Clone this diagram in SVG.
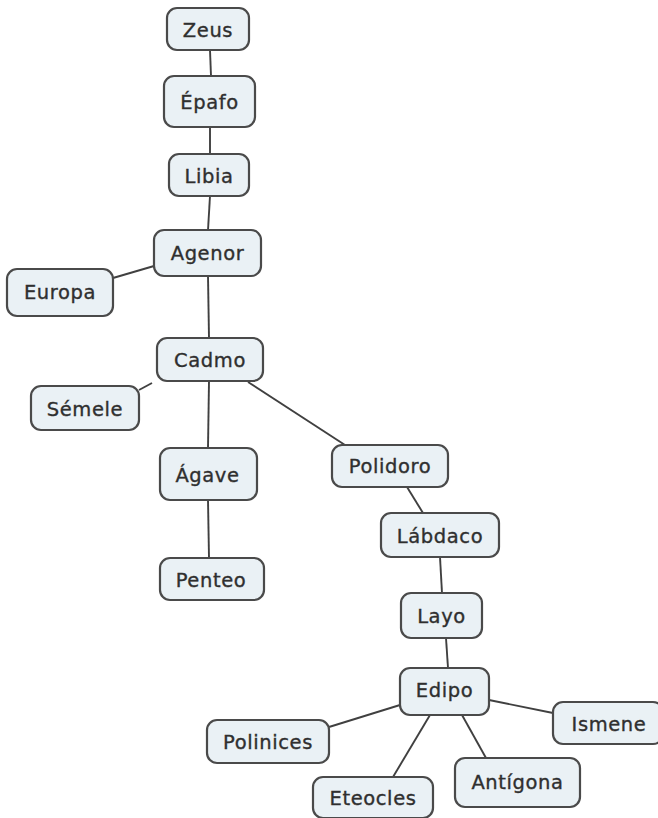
<svg xmlns="http://www.w3.org/2000/svg" width="658" height="818" viewBox="0 0 658 818">
<style>
.n rect{fill:#eaf1f5;stroke:#4a4a4a;stroke-width:2.2}
.n text{font-family:"DejaVu Sans",Verdana,sans-serif;font-size:19.5px;letter-spacing:0.6px;fill:#2f2f2f;stroke:#2f2f2f;stroke-width:0.35;text-anchor:middle;dominant-baseline:central}
#edges line{stroke:#404040;stroke-width:1.9}
</style>
<rect width="658" height="818" fill="#ffffff"/>
<g id="edges">
<line x1="210" y1="50" x2="211" y2="76"/>
<line x1="210" y1="127" x2="210" y2="154"/>
<line x1="210" y1="196" x2="208" y2="230"/>
<line x1="154" y1="266" x2="113" y2="278"/>
<line x1="208" y1="276" x2="209" y2="338"/>
<line x1="152" y1="383" x2="139" y2="390"/>
<line x1="209" y1="381" x2="208" y2="448"/>
<line x1="248" y1="382" x2="345" y2="445"/>
<line x1="208" y1="500" x2="209" y2="558"/>
<line x1="407" y1="487" x2="423" y2="513"/>
<line x1="440" y1="557" x2="442" y2="593"/>
<line x1="446" y1="638" x2="448" y2="668"/>
<line x1="489" y1="700" x2="553" y2="713"/>
<line x1="400" y1="705" x2="329" y2="727"/>
<line x1="430" y1="715" x2="393" y2="777"/>
<line x1="462" y1="715" x2="486" y2="758"/>
</g>
<g id="zeus" class="n"><rect x="167" y="8" width="82" height="42" rx="10"/><text x="208" y="30">Zeus</text></g>
<g id="epafo" class="n"><rect x="164" y="76" width="91" height="51" rx="10"/><text x="209.5" y="102">Épafo</text></g>
<g id="libia" class="n"><rect x="169" y="154" width="80" height="42" rx="10"/><text x="209" y="176">Libia</text></g>
<g id="agenor" class="n"><rect x="154" y="230" width="107" height="46" rx="10"/><text x="207.5" y="253">Agenor</text></g>
<g id="europa" class="n"><rect x="7" y="269" width="106" height="47" rx="10"/><text x="60" y="292.5">Europa</text></g>
<g id="cadmo" class="n"><rect x="157" y="338" width="106" height="43" rx="10"/><text x="210" y="360">Cadmo</text></g>
<g id="semele" class="n"><rect x="31" y="386" width="108" height="44" rx="10"/><text x="85" y="409">Sémele</text></g>
<g id="agave" class="n"><rect x="160" y="448" width="97" height="52" rx="10"/><text x="207.5" y="475">Ágave</text></g>
<g id="penteo" class="n"><rect x="160" y="558" width="104" height="42" rx="10"/><text x="211" y="580">Penteo</text></g>
<g id="polidoro" class="n"><rect x="332" y="445" width="116" height="42" rx="10"/><text x="390" y="466">Polidoro</text></g>
<g id="labdaco" class="n"><rect x="381" y="513" width="118" height="44" rx="10"/><text x="440" y="536">Lábdaco</text></g>
<g id="layo" class="n"><rect x="401" y="593" width="81" height="45" rx="10"/><text x="441.5" y="616">Layo</text></g>
<g id="edipo" class="n"><rect x="400" y="668" width="89" height="47" rx="10"/><text x="444.5" y="690">Edipo</text></g>
<g id="ismene" class="n"><rect x="553" y="702" width="110" height="42" rx="10"/><text x="609" y="724">Ismene</text></g>
<g id="polinices" class="n"><rect x="207" y="720" width="122" height="43" rx="10"/><text x="268" y="742">Polinices</text></g>
<g id="eteocles" class="n"><rect x="313" y="777" width="120" height="41" rx="10"/><text x="373" y="798.5">Eteocles</text></g>
<g id="antigona" class="n"><rect x="455" y="758" width="125" height="49" rx="10"/><text x="517.5" y="782">Antígona</text></g>
</svg>
